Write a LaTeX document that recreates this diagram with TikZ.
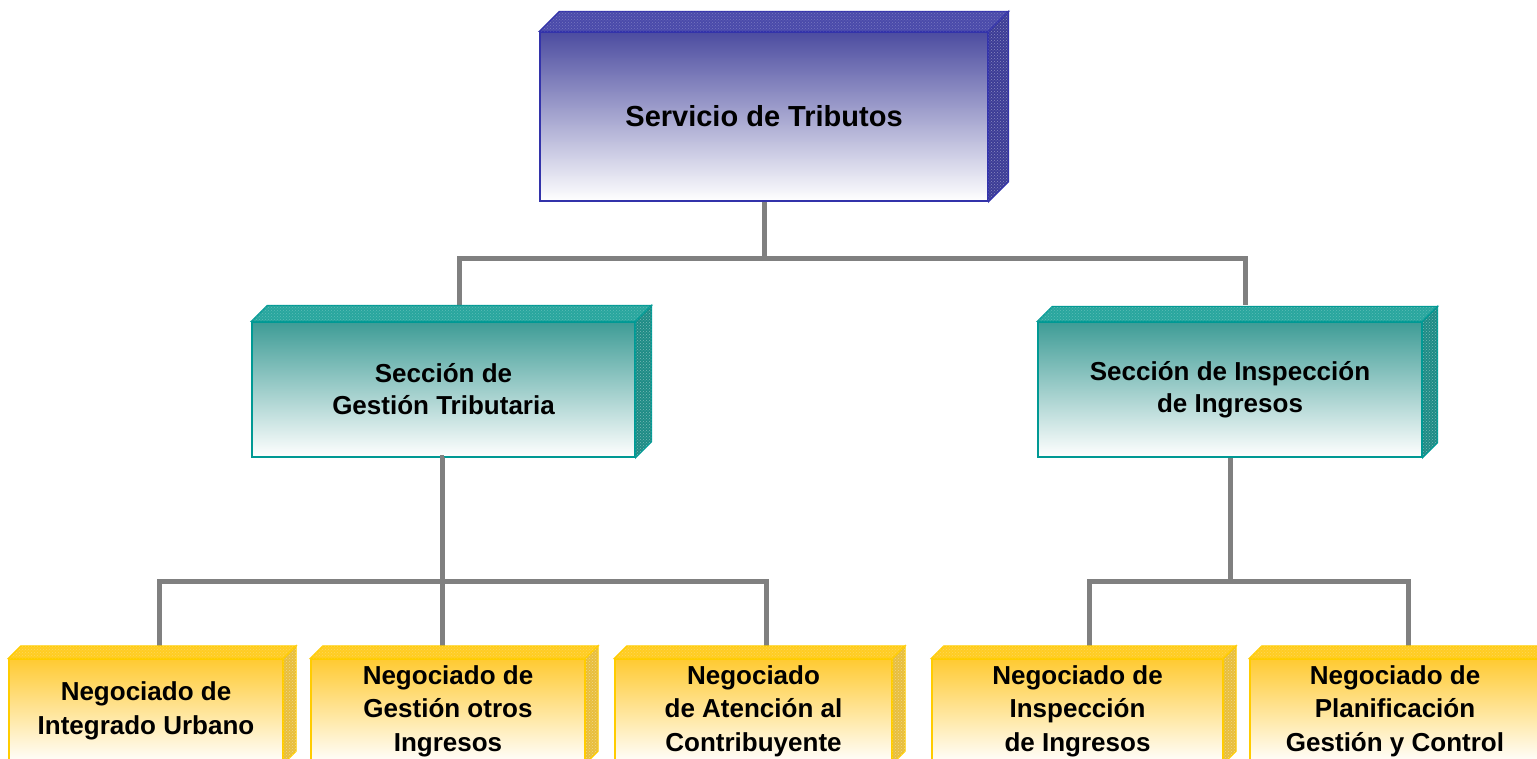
\documentclass[tikz,border=0pt]{standalone}
\usepackage{fontspec}
\setmainfont{Liberation Sans}
\usetikzlibrary{calc,patterns}
\definecolor{azulA}{RGB}{76,76,160}
\definecolor{azulT}{RGB}{74,74,170}
\definecolor{azulB}{RGB}{51,51,170}
\definecolor{azulL}{RGB}{60,60,150}
\definecolor{verdeA}{RGB}{62,156,150}
\definecolor{verdeT}{RGB}{40,166,158}
\definecolor{verdeB}{RGB}{0,153,148}
\definecolor{verdeL}{RGB}{30,140,134}
\definecolor{amaA}{RGB}{255,202,50}
\definecolor{amaT}{RGB}{255,204,34}
\definecolor{amaB}{RGB}{255,204,0}
\definecolor{amaL}{RGB}{232,190,60}
\definecolor{gris}{RGB}{128,128,128}
\tikzstyle{servicio}=[minimum width=448pt,minimum height=169pt,
rectangle,inner sep=0pt,draw=azulB,line width=1.2pt,
top color=azulA,bottom color=white,text=black,
font=\fontsize{29}{35}\selectfont\bfseries,align=center]
\tikzstyle{seccion}=[minimum width=383pt,minimum height=135pt,
rectangle,inner sep=0pt,draw=verdeB,line width=1.2pt,
top color=verdeA,bottom color=white,text=black,
font=\fontsize{26}{32}\selectfont\bfseries,align=center]
\tikzstyle{negociado}=[minimum width=274pt,minimum height=104pt,
rectangle,inner sep=0pt,draw=amaB,line width=1.2pt,
top color=amaA,bottom color=white,text=black,
font=\fontsize{26}{33.5}\selectfont\bfseries,align=center]
\tikzstyle{linea}=[draw=gris,line width=5pt]
% caras de arriba y de la derecha
\newcommand{\caja}[5]{%
  \filldraw[fill=#3,draw=#5,line width=1.2pt] (#1.north west) -- ++(#2,-#2)
    -- ($(#1.north east)+(#2,-#2)$) -- (#1.north east) -- cycle;
  \fill[pattern=crosshatch dots,pattern color=white,opacity=.25] (#1.north west)
    -- ++(#2,-#2) -- ($(#1.north east)+(#2,-#2)$) -- (#1.north east) -- cycle;
  \filldraw[fill=#4,draw=#5,line width=1.2pt] (#1.north east) -- ++(#2,-#2)
    -- ($(#1.south east)+(#2,-#2)$) -- (#1.south east) -- cycle;
  \fill[pattern=crosshatch dots,pattern color=white,opacity=.4] (#1.north east)
    -- ++(#2,-#2) -- ($(#1.south east)+(#2,-#2)$) -- (#1.south east) -- cycle;}
\begin{document}
\begin{tikzpicture}[x=1pt,y=-1pt]
      \clip (0,0) rectangle (1537,759);
      \fill[white] (0,0) rectangle (1537,759);
      \node[servicio] (S) at (764,116.5) {Servicio de Tributos};
      \node[seccion] (G) at (443.5,389.5) {Sección de\\Gestión Tributaria};
      \node[seccion,minimum width=384pt] (I) at (1230,389.5) {Sección de Inspección\\de Ingresos};
      \node[negociado] (N1) at (146,711) {Negociado de\\Integrado Urbano};
      \node[negociado] (N2) at (448,711) {Negociado de\\Gestión otros\\Ingresos};
      \node[negociado,minimum width=277pt] (N3) at (753.5,711) {Negociado\\de Atención al\\Contribuyente};
      \node[negociado,minimum width=291pt] (N4) at (1077.5,711) {Negociado de\\Inspección\\de Ingresos};
      \node[negociado,minimum width=290pt] (N5) at (1395,711) {Negociado de\\Planificación\\Gestión y Control};

      \draw[linea] (S.south) -- ++(0,57) coordinate (s1);
      \draw[linea] ($(G.north)+(15.5,-16)$) |- (s1) -| ($(I.north)+(15,-16)$);
      \draw[linea] (G.south) -- ++(-1.5,0) -- ++(0,124) coordinate (g1);
      \draw[linea] ($(N1.north)+(13,-12)$) |- (g1) -| ($(N3.north)+(12.5,-12)$);
      \draw[linea] (g1) -- (g1 |- N2.north);
      \draw[linea] (I.south) -- ++(0,124) coordinate (i1);
      \draw[linea] ($(N4.north)+(11.5,-12)$) |- (i1) -| ($(N5.north)+(13,-12)$);

      \caja{S}{20}{azulT}{azulL}{azulB}
      \caja{G}{16}{verdeT}{verdeL}{verdeB}
      \caja{I}{15}{verdeT}{verdeL}{verdeB}
      \foreach \n in {N1,N2,N3,N4,N5} {\caja{\n}{12.5}{amaT}{amaL}{amaB}}
\end{tikzpicture}
\end{document}
